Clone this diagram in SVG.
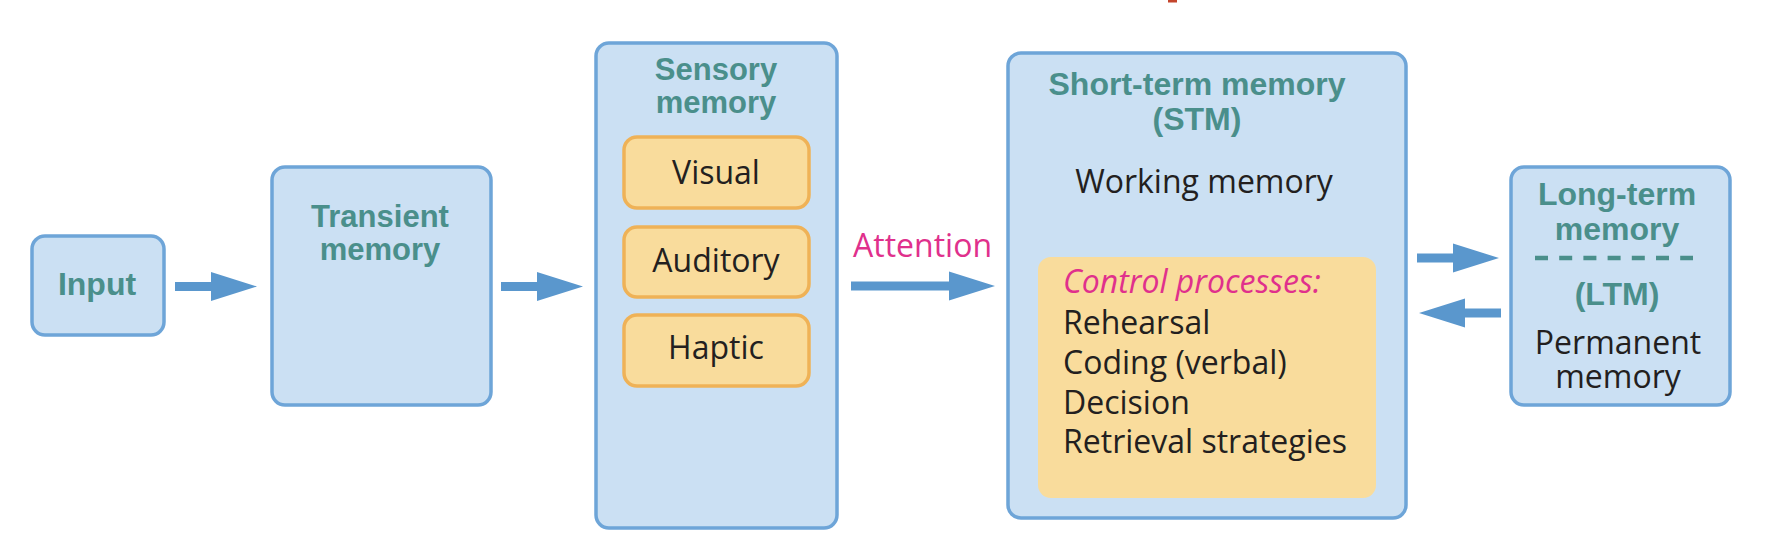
<svg xmlns="http://www.w3.org/2000/svg" xmlns:xlink="http://www.w3.org/1999/xlink" width="1768" height="548" viewBox="0 0 1768 548">
<style>
.box{fill:#cbe0f3;stroke:#6ea5d8;stroke-width:3.5}
.sub{fill:#f9dc9c;stroke:#efb257;stroke-width:3.5}
.ctl{fill:#f9dc9c}
.hd{font-family:"Liberation Sans",Arial,sans-serif;font-weight:bold;fill:#4a8f8b;text-anchor:middle}
.tx{font-family:"Open Sans","Liberation Sans",sans-serif;font-size:32px;fill:#231f20}
.mid{text-anchor:middle}
.mag{fill:#e0308c}
.arr{fill:#5a97cd}
</style>
<defs>
<path id="ar" class="arr" d="M-82,-4.5 H-46 V-14.5 L0,0 L-46,14.5 V4.5 H-82 Z"/>
</defs>
<rect x="1168" y="0" width="9" height="2.5" fill="#c4452c"/>
<g id="input">
<rect class="box" x="32" y="236" width="132" height="99" rx="13"/>
<text class="hd" x="97" y="295" font-size="32">Input</text>
</g>
<g id="transient">
<rect class="box" x="272" y="167" width="219" height="238" rx="13"/>
<text class="hd" font-size="31"><tspan x="380" y="227">Transient</tspan><tspan x="380" y="260">memory</tspan></text>
</g>
<g id="sensory">
<rect class="box" x="596" y="43" width="241" height="485" rx="13"/>
<text class="hd" font-size="31"><tspan x="716" y="80">Sensory</tspan><tspan x="716" y="113">memory</tspan></text>
<g id="visual">
<rect class="sub" x="624" y="137" width="185" height="71" rx="13"/>
<text class="tx mid" x="716" y="184">Visual</text>
</g>
<g id="auditory">
<rect class="sub" x="624" y="227" width="185" height="70" rx="13"/>
<text class="tx mid" x="716" y="272">Auditory</text>
</g>
<g id="haptic">
<rect class="sub" x="624" y="315" width="185" height="71" rx="13"/>
<text class="tx mid" x="716" y="359">Haptic</text>
</g>
</g>
<g id="stm">
<rect class="box" x="1008" y="53" width="398" height="465" rx="13"/>
<text class="hd" font-size="32"><tspan x="1197" y="95">Short-term memory</tspan><tspan x="1197" y="130">(STM)</tspan></text>
<text class="tx mid" x="1204" y="193">Working memory</text>
<g id="control">
<rect class="ctl" x="1038" y="257" width="338" height="241" rx="13"/>
<text class="tx"><tspan class="mag" x="1063" y="293" font-style="italic">Control processes:</tspan><tspan x="1063" y="334">Rehearsal</tspan><tspan x="1063" y="374">Coding (verbal)</tspan><tspan x="1063" y="414">Decision</tspan><tspan x="1063" y="453">Retrieval strategies</tspan></text>
</g>
</g>
<g id="ltm">
<rect class="box" x="1511" y="167" width="219" height="238" rx="13"/>
<text class="hd" font-size="32"><tspan x="1617" y="205">Long-term</tspan><tspan x="1617" y="240">memory</tspan></text>
<line x1="1535" y1="258" x2="1693" y2="258" stroke="#4a8f8b" stroke-width="4.5" stroke-dasharray="13 11.2"/>
<text class="hd" x="1617" y="305" font-size="32">(LTM)</text>
<text class="tx mid"><tspan x="1618" y="354">Permanent</tspan><tspan x="1618" y="388">memory</tspan></text>
</g>
<g id="connectors">
<use xlink:href="#ar" href="#ar" x="257" y="286.5"/>
<use xlink:href="#ar" href="#ar" x="583" y="286.5"/>
<path class="arr" d="M851,281.5 H949 V271.5 L995,286 L949,300.5 V290.5 H851 Z"/>
<text class="tx mag" x="853" y="257">Attention</text>
<use xlink:href="#ar" href="#ar" x="1499" y="258"/>
<use xlink:href="#ar" href="#ar" transform="translate(1419,313) rotate(180)"/>
</g>
</svg>
